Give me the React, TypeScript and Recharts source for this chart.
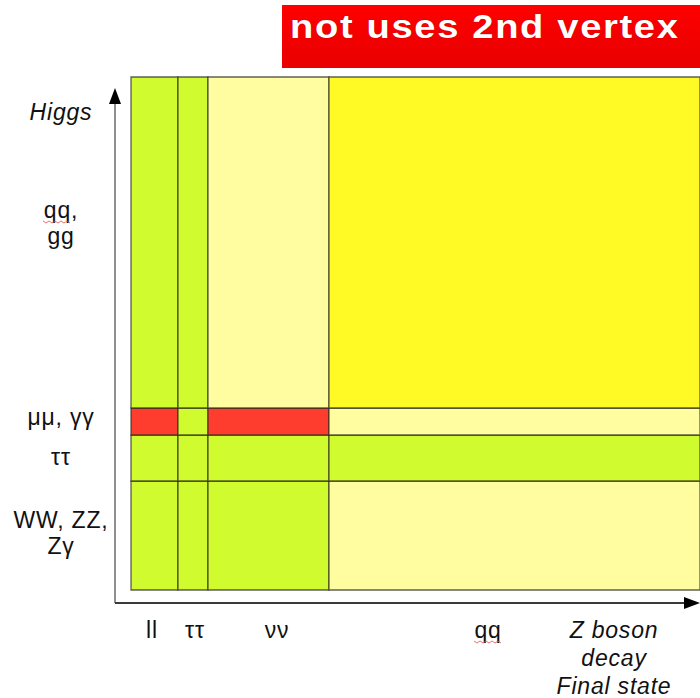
import { ScatterChart, Scatter, XAxis, YAxis, ReferenceArea, ReferenceLine } from 'recharts';

// columns = Z boson decay final state (left to right), widths in relative units
const columnNames = ['ll', 'ττ', 'νν', 'qq'];
const columnWidths = [47, 30, 121, 371];

// rows = Higgs decay (bottom to top), heights in relative units
const rowNames = ['WW, ZZ, Zγ', 'ττ', 'μμ, γγ', 'qq, gg'];
const rowHeights = [109, 46, 27, 331];

// cell kind per row (bottom to top) x column
const cellKinds = [
  ['ok', 'ok', 'ok', 'weak'],
  ['ok', 'ok', 'ok', 'ok'],
  ['no', 'ok', 'no', 'weak'],
  ['ok', 'ok', 'weak', 'bulk'],
];

const xTickValues = [21, 64, 146, 357, 483];
const xTickLabels = [['ll'], ['ττ'], ['νν'], ['qq'], ['Z boson', 'decay', 'Final state']];
const yTickValues = [62, 125, 165, 372, 470];
const yTickLabels = [['WW, ZZ,', 'Zγ'], ['ττ'], ['μμ, γγ'], ['qq,', 'gg'], ['Higgs']];

const kindColors: Record<string, string> = {
  ok: '#cffb2f',
  weak: '#fffda0',
  bulk: '#fff926',
  no: '#ff3d2e',
};

const FONT = '"Liberation Sans", Arial, sans-serif';

const edges = (sizes: number[]) => {
  const out = [0];
  sizes.forEach((s) => out.push(out[out.length - 1] + s));
  return out;
};
const xEdges = edges(columnWidths);
const yEdges = edges(rowHeights);

// red spell-check squiggle under a word
const Squiggle = ({ x, y, w }: { x: number; y: number; w: number }) => {
  let d = `M${x},${y}`;
  for (let k = 0, px = x; px < x + w; k++) {
    px += 3;
    d += ` L${px},${y + (k % 2 === 0 ? 2 : 0)}`;
  }
  return <path d={d} fill="none" stroke="#e4504a" strokeWidth={1} strokeOpacity={0.8} />;
};

// eslint-disable-next-line @typescript-eslint/no-explicit-any
const XTick = (props: any) => {
  const { x, y, payload } = props;
  const i = xTickValues.indexOf(payload.value);
  const lines = xTickLabels[i] || [];
  const italic = lines.length > 1;
  return (
    <g>
      <text x={x} y={y + 35} textAnchor="middle" fontSize={23} letterSpacing={0.8} fill="#111" fontFamily={FONT} fontStyle={italic ? 'italic' : 'normal'}>
        {lines.map((l, k) => (
          <tspan key={k} x={x} dy={k === 0 ? 0 : 28}>{l}</tspan>
        ))}
      </text>
      {lines[0] === 'qq' && <Squiggle x={x - 14} y={y + 38} w={27} />}
    </g>
  );
};

// eslint-disable-next-line @typescript-eslint/no-explicit-any
const YTick = (props: any) => {
  const { x, y, payload } = props;
  const i = yTickValues.indexOf(payload.value);
  const lines = yTickLabels[i] || [];
  const cx = x - 54;
  return (
    <g>
      <text x={cx} y={y} textAnchor="middle" fontSize={23} letterSpacing={0.8} fill="#111" fontFamily={FONT} fontStyle={lines[0] === 'Higgs' ? 'italic' : 'normal'}>
        {lines.map((l, k) => (
          <tspan key={k} x={cx} dy={k === 0 ? 0 : 26}>{l}</tspan>
        ))}
      </text>
      {lines[0] === 'qq,' && <Squiggle x={cx - 18} y={y + 3} w={27} />}
    </g>
  );
};

// eslint-disable-next-line @typescript-eslint/no-explicit-any
const arrowShape = (color: string, w: number) => (p: any) => {
  const { x1, y1, x2, y2 } = p;
  const dx = x2 - x1;
  const dy = y2 - y1;
  const len = Math.sqrt(dx * dx + dy * dy) || 1;
  const ux = dx / len;
  const uy = dy / len;
  const hl = 16;
  const hw = 6;
  const bx = x2 - ux * hl;
  const by = y2 - uy * hl;
  const pts = `${x2},${y2} ${bx - uy * hw},${by + ux * hw} ${bx + uy * hw},${by - ux * hw}`;
  return (
    <g>
      <line x1={x1} y1={y1} x2={bx} y2={by} stroke={color} strokeWidth={w} />
      <polygon points={pts} fill="#000" />
    </g>
  );
};

export default function App() {
  return (
    <div style={{ position: 'absolute', left: 0, top: 0, width: 700, height: 698, overflow: 'hidden', background: '#fff' }}>
      <ScatterChart width={700} height={698} margin={{ top: 77, right: 0, bottom: 0, left: 0 }}>
        <XAxis
          type="number"
          dataKey="x"
          domain={[-16, 569]}
          allowDataOverflow
          ticks={xTickValues}
          interval={0}
          axisLine={false}
          tickLine={false}
          tickSize={0}
          tickMargin={0}
          height={95}
          tick={<XTick />}
        />
        <YAxis
          type="number"
          dataKey="y"
          domain={[-13, 513]}
          allowDataOverflow
          ticks={yTickValues}
          interval={0}
          axisLine={false}
          tickLine={false}
          tickSize={0}
          tickMargin={0}
          width={115}
          tick={<YTick />}
        />
        {rowNames.map((r, ri) =>
          columnNames.map((c, ci) => (
            <ReferenceArea
              key={`${r}-${c}`}
              x1={xEdges[ci]}
              x2={xEdges[ci + 1]}
              y1={yEdges[ri]}
              y2={yEdges[ri + 1]}
              fill={kindColors[cellKinds[ri][ci]]}
              fillOpacity={1}
              stroke="#2e2e1e"
              strokeOpacity={0.75}
              strokeWidth={1.3}
              ifOverflow="visible"
            />
          ))
        )}
        <ReferenceLine
          segment={[{ x: -16, y: -13 }, { x: -16, y: 502 }]}
          ifOverflow="visible"
          shape={arrowShape('#6a6a6a', 1.5)}
        />
        <ReferenceLine
          segment={[{ x: -16, y: -13 }, { x: 569, y: -13 }]}
          ifOverflow="visible"
          shape={arrowShape('#3a3a3a', 2)}
        />
        <Scatter data={[]} isAnimationActive={false} />
      </ScatterChart>
      <div
        style={{
          position: 'absolute',
          left: 282,
          top: 5,
          width: 430,
          height: 63,
          background: 'linear-gradient(#ff0000, #e80000)',
          color: '#fff',
          fontFamily: FONT,
          fontWeight: 'bold',
          fontSize: 34,
          lineHeight: '38px',
          paddingLeft: 8,
          paddingTop: 2,
          boxSizing: 'border-box',
          whiteSpace: 'nowrap',
          textShadow: '0 0 1px rgba(80,0,0,0.5)',
        }}
      >
        <span style={{ display: 'inline-block', transform: 'scaleX(1.12)', transformOrigin: 'left center', letterSpacing: 1.5 }}>
          not uses 2nd vertex
        </span>
      </div>
    </div>
  );
}
